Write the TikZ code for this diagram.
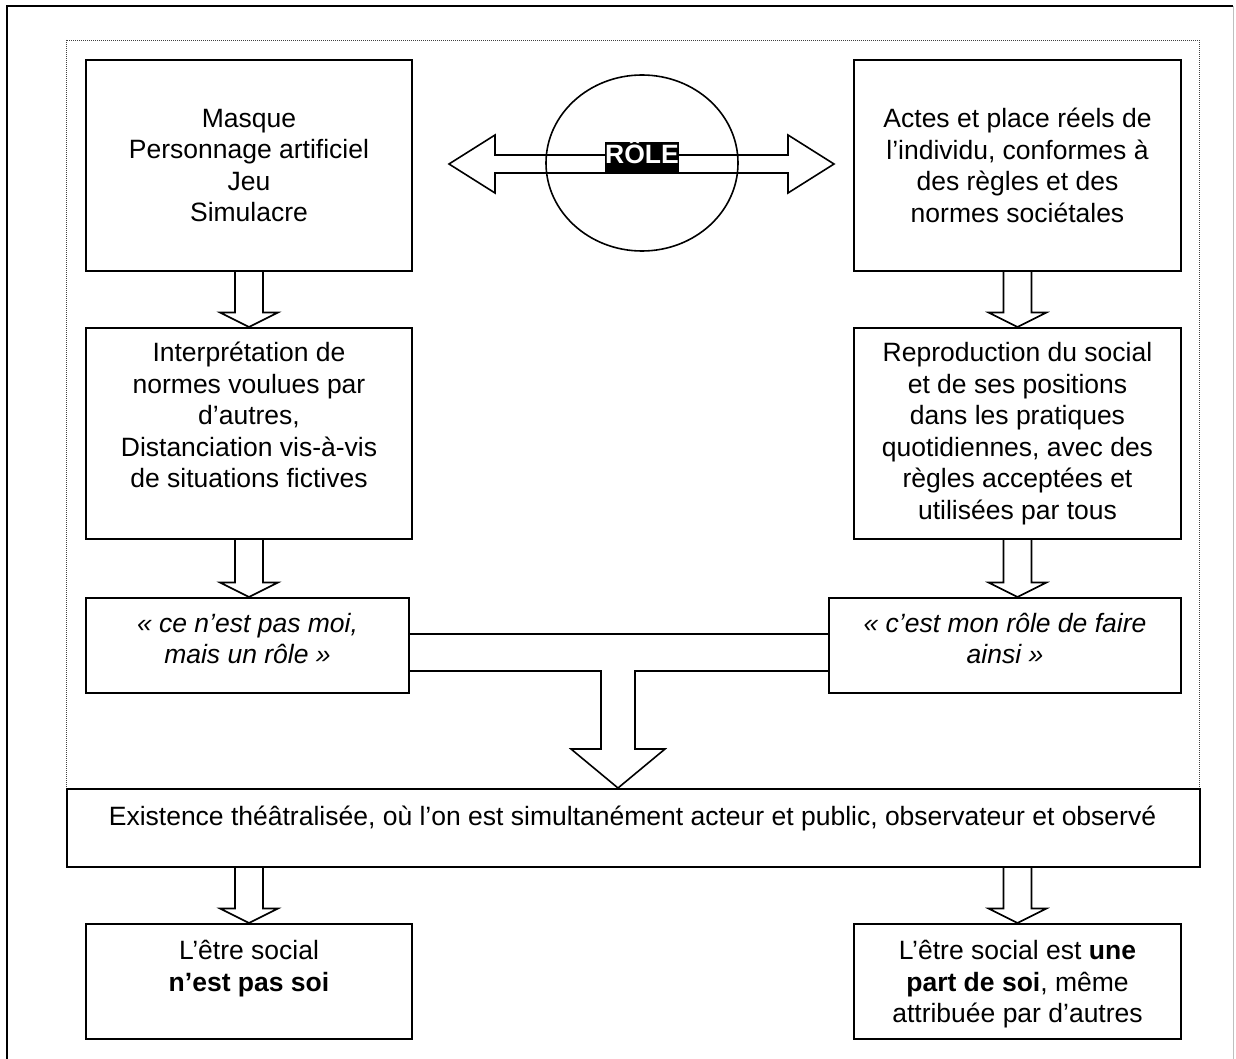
\documentclass[tikz,border=0pt]{standalone}
\usepackage{fontspec}
\setmainfont{Liberation Sans}
\usetikzlibrary{calc,shapes.geometric}
\newcommand\dgfont{\fontsize{26.5}{31.5}\selectfont}
\newcommand\blockdown[3]{%
  \draw[arr] let \p1=(#1.south), \p2=(#2.north), \p3=(#3) in
    (\x3-14pt,\y1) -- (\x3-14pt,\y2+14.5pt) -- (\x3-29pt,\y2+14.5pt) -- (\x3,\y2)
    -- (\x3+29pt,\y2+14.5pt) -- (\x3+14pt,\y2+14.5pt) -- (\x3+14pt,\y1);}
\begin{document}
\begin{tikzpicture}[x=1pt,y=-1pt,
  box/.style={draw,line width=2pt,inner sep=0pt,anchor=north west},
  txt/.style={align=center,inner sep=0pt,font=\dgfont},
  arr/.style={draw,line width=1.6pt,line join=miter},
  dotframe/.style={draw=black!75,line width=0.9pt,dash pattern=on 1pt off 1pt}]
\useasboundingbox (0,0) rectangle (1236,1059);
% outer frame
\draw[line width=2pt] (7,1059) -- (7,6) -- (1233,6);
\draw[black!25,line width=1pt] (1233,6) -- (1233,1059);
% dotted frame
\draw[dotframe] (66,40) rectangle (1199,788);
% boxes
\node[box,minimum width=326pt,minimum height=211pt] (b1) at (85,59) {};
\node[box,minimum width=327pt,minimum height=211pt] (b3) at (853,59) {};
\node[box,minimum width=326pt,minimum height=211pt] (b2) at (85,327) {};
\node[box,minimum width=327pt,minimum height=211pt] (b4) at (853,327) {};
\node[box,minimum width=323pt,minimum height=95pt] (ql) at (85,597) {};
\node[box,minimum width=352pt,minimum height=95pt] (qr) at (828,597) {};
\node[box,minimum width=1133pt,minimum height=78pt] (ex) at (66,788) {};
\node[box,minimum width=326pt,minimum height=115pt] (bl) at (85,923) {};
\node[box,minimum width=327pt,minimum height=115pt] (br) at (853,923) {};
% texts
\node[txt] (t1) at (b1.center) {Masque\\Personnage artificiel\\Jeu\\Simulacre};
\node[txt] (t3) at (b3.center) {Actes et place réels de\\l’individu, conformes à\\des règles et des\\normes sociétales};
\node[txt] (t4) at (b4.center) {Reproduction du social\\et de ses positions\\dans les pratiques\\quotidiennes, avec des\\règles acceptées et\\utilisées par tous};
\node[txt,anchor=north] (t2) at (b2.center |- t4.north) {Interprétation de\\normes voulues par\\d’autres,\\Distanciation vis-à-vis\\de situations fictives};
\node[txt,font=\dgfont\itshape,anchor=north] (tql) at ($(ql.north)+(0,16)$) {«~ce n’est pas moi,\\mais un rôle~»};
\node[txt,font=\dgfont\itshape,anchor=north] (tqr) at ($(qr.north)+(0,16)$) {«~c’est mon rôle de faire\\ainsi~»};
\node[txt,anchor=base] (tex) at (632.5,825) {Existence théâtralisée, où l’on est simultanément acteur et public, observateur et observé};
\node[txt,anchor=north] (tbl) at ($(bl.north)+(0,17)$) {L’être social\\\textbf{n’est pas soi}};
\node[txt,anchor=north] (tbr) at ($(br.north)+(0,17)$) {L’être social est \textbf{une}\\\textbf{part de soi}, même\\attribuée par d’autres};
% ellipse and double arrow
\node[draw,ellipse,line width=1.6pt,minimum width=192pt,minimum height=176pt,inner sep=0pt] (ell) at (642,163) {};
\coordinate (la) at (449,164);
\coordinate (ra) at (834,164);
\draw[arr] (la) -- (495,135) -- (495,155) -- (788,155) -- (788,135) -- (ra)
  -- (788,193) -- (788,173) -- (495,173) -- (495,193) -- cycle;
\node[fill=black,text=white,font=\fontsize{26.5}{30}\selectfont\bfseries,
  inner xsep=0.5pt,inner ysep=1pt,text height=21pt,text depth=7pt] (role) at (642,157) {RÔLE};
% down arrows
\blockdown{b1}{b2}{b1.south}
\blockdown{b3}{b4}{b3.south}
\blockdown{b2}{ql}{b2.south}
\blockdown{b4}{qr}{b4.south}
\blockdown{ex}{bl}{bl.north}
\blockdown{ex}{br}{br.north}
% T arrow
\coordinate (tip) at (618,788);
\draw[arr] (ql.east |- 0,634) -- (qr.west |- 0,634)
  (qr.west |- 0,671) -- (635,671) -- (635,749) -- (665,749) -- (tip)
  -- (571,749) -- (601,749) -- (601,671) -- (ql.east |- 0,671);
\end{tikzpicture}
\end{document}
